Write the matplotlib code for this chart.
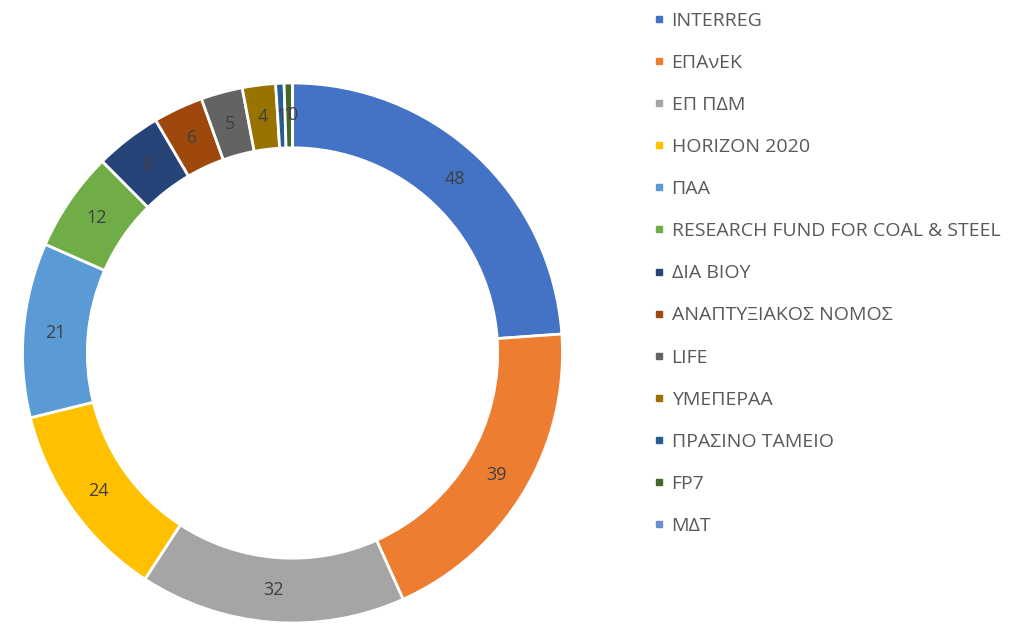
import numpy as np
import matplotlib.pyplot as plt
from matplotlib.lines import Line2D

# data
labels = ["INTERREG", "ΕΠΑνΕΚ", "ΕΠ ΠΔΜ", "HORIZON 2020", "ΠΑΑ",
          "RESEARCH FUND FOR COAL & STEEL", "ΔΙΑ ΒΙΟΥ",
          "ΑΝΑΠΤΥΞΙΑΚΟΣ ΝΟΜΟΣ", "LIFE", "ΥΜΕΠΕΡΑΑ", "ΠΡΑΣΙΝΟ ΤΑΜΕΙΟ",
          "FP7", "ΜΔΤ"]
values = [48, 39, 32, 24, 21, 12, 8, 6, 5, 4, 1, 1, 0]
colors = ["#4472C4", "#ED7D31", "#A5A5A5", "#FFC000", "#5B9BD5", "#70AD47",
          "#264478", "#9E480E", "#636363", "#997300", "#255E91", "#43682B",
          "#698ED0"]

plt.rcParams['font.family'] = ['Open Sans', 'DejaVu Sans']

fig = plt.figure(figsize=(10.22, 6.24), dpi=100)
W, H = 1022, 624
cx, cy, r = 292.5, 353, 270
ax = fig.add_axes([(cx - r) / W, (H - cy - r) / H, 2 * r / W, 2 * r / H])

ring = 0.24
wedges, _ = ax.pie(values, colors=colors, startangle=90, counterclock=False,
                   radius=1, wedgeprops=dict(width=ring, edgecolor='white', linewidth=2))
ax.set_xlim(-1, 1)
ax.set_ylim(-1, 1)
ax.set_aspect('equal')
ax.axis('off')

rl = 1 - ring / 2
for w, v in zip(wedges, values):
    a = np.deg2rad((w.theta1 + w.theta2) / 2)
    ax.text(rl * np.cos(a), rl * np.sin(a), str(v), ha='center', va='center',
            fontsize=13, color='#404040')

handles = [Line2D([], [], marker='s', linestyle='none', markersize=5,
                  markerfacecolor=c, markeredgecolor=c) for c in colors]
leg = fig.legend(handles, labels, loc='upper left', bbox_to_anchor=(644 / W, 1 - 2 / H),
                 frameon=False, fontsize=14, labelspacing=1.24, handlelength=0.5,
                 handletextpad=0.42, borderpad=0)
for t in leg.get_texts():
    t.set_color('#595959')

fig.savefig('out.png', dpi=100)
